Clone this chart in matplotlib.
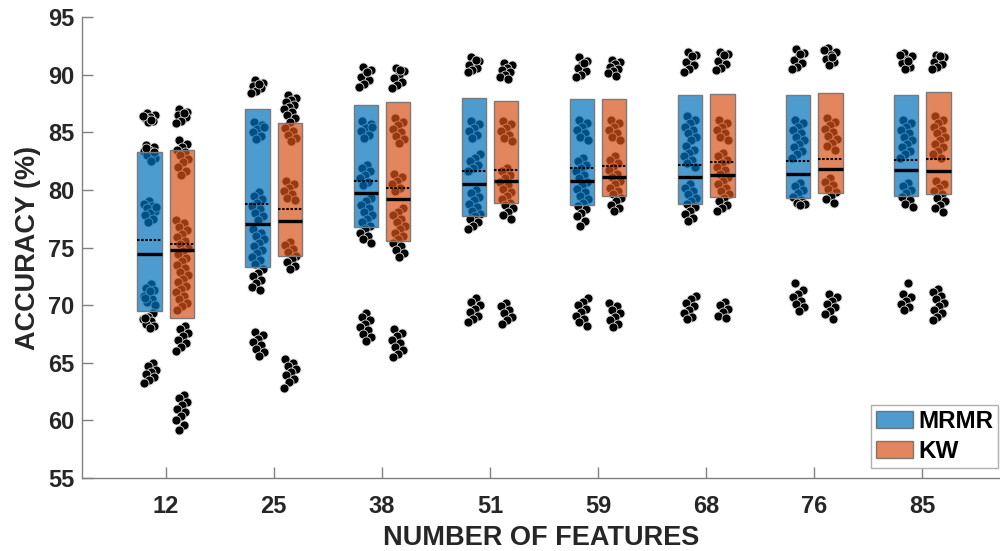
import numpy as np
import matplotlib
matplotlib.use("Agg")
import matplotlib.pyplot as plt
from matplotlib.patches import Rectangle, Patch

plt.rcParams['font.family'] = ['Liberation Sans', 'DejaVu Sans']

categories = ["12", "25", "38", "51", "59", "68", "76", "85"]
methods = ["MRMR", "KW"]

# box extents (lower, upper), medians and means
mrmr_low = [69.5, 73.3, 76.8, 77.7, 78.7, 78.8, 79.3, 79.5]
mrmr_high = [83.3, 87.0, 87.4, 88.0, 87.9, 88.2, 88.2, 88.2]
mrmr_median = [74.4, 77.0, 79.7, 80.5, 80.8, 81.1, 81.4, 81.7]
mrmr_mean = [75.65, 78.8, 80.8, 81.6, 81.9, 82.2, 82.5, 82.6]

kw_low = [68.9, 74.3, 75.6, 78.9, 79.5, 79.4, 79.7, 79.6]
kw_high = [83.5, 85.8, 87.6, 87.7, 87.9, 88.3, 88.4, 88.5]
kw_median = [74.8, 77.3, 79.2, 80.8, 81.1, 81.3, 81.8, 81.6]
kw_mean = [75.3, 78.3, 80.2, 81.75, 82.1, 82.4, 82.7, 82.7]

# individual accuracies
mrmr_12 = [86.7, 86.5, 86.3, 86.2, 86.0, 85.9, 86.4, 86.1,
           83.9, 83.7, 83.5, 83.4, 83.2, 83.0, 82.8, 82.5, 83.6, 83.3,
           79.0, 78.8, 78.6, 78.4, 78.2, 78.0, 77.8, 77.5, 77.2, 78.5,
           71.8, 71.5, 71.3, 71.0, 70.8, 70.5, 70.3, 70.0, 71.2, 70.6,
           69.3, 69.0, 68.8, 68.6, 68.4, 68.2, 68.0, 68.9,
           65.0, 64.7, 64.4, 64.2, 64.0, 63.8, 63.5, 63.2]
kw_12 = [87.0, 86.8, 86.6, 86.5, 86.3, 86.0, 85.8, 86.7,
         84.3, 84.0, 83.7, 83.5, 83.3, 83.0, 82.7, 82.4, 82.0, 81.6, 81.3,
         77.4, 77.1, 76.8, 76.5, 76.2, 75.9, 75.6, 75.3, 75.0, 74.7, 74.4,
         74.1, 73.8, 73.5, 73.2, 72.9, 72.6, 72.3, 72.0, 71.7, 71.4, 71.1,
         70.8, 70.5, 70.2, 69.9, 69.6,
         68.2, 67.9, 67.6, 67.3, 67.0, 66.7, 66.4, 66.0,
         62.2, 61.9, 61.6, 61.3, 61.0, 60.7, 60.4, 60.0, 59.6, 59.2]
mrmr_25 = [89.5, 89.3, 89.1, 89.0, 88.8, 88.6, 88.4, 89.2,
           85.9, 85.6, 85.3, 85.0, 84.7, 84.4, 85.5,
           79.8, 79.5, 79.2, 78.9, 78.6, 78.3, 78.0, 77.7, 77.4,
           76.6, 76.3, 76.0, 75.7, 75.4, 75.1, 74.8, 74.5, 74.2, 73.9, 73.6,
           73.1, 72.8, 72.5, 72.2, 71.9, 71.6, 71.3,
           67.7, 67.4, 67.1, 66.8, 66.5, 66.2, 65.9, 65.6]
kw_25 = [88.2, 88.0, 87.8, 87.6, 87.4, 87.2, 87.0, 86.8, 86.5, 86.2, 85.9,
         85.4, 85.1, 84.8, 84.5, 84.2,
         80.8, 80.5, 80.2, 79.9, 79.6, 79.3, 79.1,
         75.5, 75.2, 74.9, 74.6, 74.3, 74.0, 73.7, 73.4, 73.1,
         65.3, 65.0, 64.7, 64.5, 64.2, 63.9, 63.6, 63.3, 62.8]
mrmr_38 = [90.7, 90.4, 90.1, 89.8, 89.5, 89.2, 88.9, 90.2,
           86.0, 85.7, 85.4, 85.1, 84.8, 84.5, 85.5,
           82.2, 81.9, 81.6, 81.3, 81.0, 80.7, 80.4,
           79.3, 79.0, 78.7, 78.4, 78.1, 77.8, 77.5, 77.2, 76.9,
           76.6, 76.3, 76.0, 75.7, 75.4,
           69.3, 69.0, 68.7, 68.4, 68.1, 67.8, 67.5, 67.2, 66.9]
kw_38 = [90.6, 90.3, 90.0, 89.7, 89.4, 89.1, 88.8, 90.4,
         86.2, 85.9, 85.6, 85.3, 85.0, 84.7, 84.4, 84.1,
         81.4, 81.1, 80.8, 80.5, 80.2, 79.9,
         78.4, 78.1, 77.8, 77.5, 77.2, 76.9, 76.6, 76.3, 76.0, 75.7,
         75.4, 75.1, 74.8, 74.5, 74.2,
         67.9, 67.6, 67.3, 67.0, 66.7, 66.4, 66.1, 65.8, 65.5]
mrmr_51 = [91.5, 91.2, 91.0, 90.8, 90.6, 90.4, 90.2, 91.3,
           86.0, 85.7, 85.4, 85.1, 84.8, 84.5,
           83.1, 82.8, 82.5, 82.2, 81.9, 81.6,
           80.0, 79.7, 79.4, 79.1, 78.8, 78.5, 78.2, 77.9, 77.7,
           77.5, 77.2, 76.9, 76.6,
           70.6, 70.3, 70.0, 69.7, 69.4, 69.1, 68.8, 68.5]
kw_51 = [91.0, 90.8, 90.6, 90.4, 90.2, 90.0, 89.8, 89.6,
         86.0, 85.7, 85.4, 85.1, 84.8, 84.5, 84.2,
         81.9, 81.6, 81.3, 81.0, 80.7, 80.4,
         80.1, 79.8, 79.5, 79.2, 78.9,
         78.7, 78.4, 78.1, 77.8, 77.5,
         70.2, 69.9, 69.6, 69.3, 69.0, 68.7, 68.4]
mrmr_59 = [91.5, 91.2, 90.9, 90.6, 90.3, 90.0, 89.8, 91.0,
           86.1, 85.8, 85.5, 85.2, 84.9, 84.6, 84.3,
           82.8, 82.5, 82.2, 81.9, 81.6, 81.3,
           81.0, 80.7, 80.4, 80.1, 79.8, 79.5, 79.2, 78.9,
           78.6, 78.3, 78.0, 77.7, 77.3, 76.9,
           70.6, 70.3, 70.0, 69.7, 69.4, 69.1, 68.8, 68.5, 68.2]
kw_59 = [91.3, 91.1, 90.9, 90.7, 90.5, 90.3, 90.1, 89.9,
         86.1, 85.8, 85.5, 85.2, 84.9, 84.6, 84.3,
         82.9, 82.6, 82.3, 82.0, 81.7, 81.4, 81.1, 80.8, 80.5, 80.2, 79.9, 79.6,
         79.3, 79.0, 78.7, 78.4, 78.2,
         70.2, 69.9, 69.6, 69.3, 69.0, 68.7, 68.4, 68.1]
mrmr_68 = [92.0, 91.7, 91.4, 91.1, 90.8, 90.5, 90.2, 91.6,
           86.4, 86.1, 85.8, 85.5, 85.2, 84.9, 84.6, 84.3,
           83.8, 83.5, 83.2, 82.9, 82.6, 82.3, 82.0,
           80.5, 80.2, 79.9, 79.6, 79.3, 79.0, 78.8,
           78.5, 78.2, 77.9, 77.6, 77.3,
           70.8, 70.5, 70.2, 69.9, 69.6, 69.3, 69.0, 68.8]
kw_68 = [92.0, 91.8, 91.5, 91.2, 90.9, 90.6, 90.4, 91.7,
         86.1, 85.8, 85.5, 85.2, 84.9, 84.6, 84.3,
         83.2, 82.9, 82.6, 82.3, 82.0, 81.7,
         81.4, 81.1, 80.8, 80.5, 80.2, 79.9, 79.6,
         79.3, 79.0, 78.7, 78.4, 78.2,
         70.3, 70.0, 69.7, 69.4, 69.1, 68.9]
mrmr_76 = [92.2, 91.9, 91.6, 91.3, 91.0, 90.7, 90.5, 91.8,
           86.1, 85.8, 85.5, 85.2, 84.9, 84.6, 84.3, 84.0, 83.7, 83.4, 83.1, 82.8,
           80.6, 80.3, 80.0, 79.7, 79.4, 79.1, 78.9, 78.8, 78.7,
           71.9, 71.3, 71.0, 70.7, 70.4, 70.1, 69.8, 69.5]
kw_76 = [92.3, 92.0, 91.7, 91.4, 91.1, 90.8, 92.1, 91.5,
         86.2, 85.9, 85.6, 85.3, 85.0, 84.7, 84.4, 84.1, 83.8, 83.5,
         81.0, 80.7, 80.4, 80.1, 79.8, 79.5, 79.2, 78.9,
         71.0, 70.7, 70.4, 70.1, 69.8, 69.5, 69.2, 68.8]
mrmr_85 = [91.9, 91.6, 91.3, 91.0, 90.7, 90.5, 91.7, 91.2,
           86.1, 85.8, 85.5, 85.2, 84.9, 84.6, 84.3, 84.0, 83.7, 83.4, 83.1, 82.8,
           80.6, 80.3, 80.0, 79.7, 79.4, 79.1, 78.8, 78.5,
           71.9, 71.0, 70.7, 70.4, 70.1, 69.8, 69.6]
kw_85 = [91.7, 91.5, 91.3, 91.1, 90.9, 90.7, 90.5, 91.6,
         86.4, 86.1, 85.8, 85.5, 85.2, 84.9, 84.6, 84.3, 84.0, 83.7, 83.4, 83.1, 82.8,
         80.8, 80.5, 80.2, 79.9, 79.6, 79.3, 79.0, 78.7, 78.4, 78.1,
         71.4, 71.1, 70.8, 70.5, 70.2, 69.9, 69.6, 69.3, 69.0, 68.7]

mrmr_points = [mrmr_12, mrmr_25, mrmr_38, mrmr_51, mrmr_59, mrmr_68, mrmr_76, mrmr_85]
kw_points = [kw_12, kw_25, kw_38, kw_51, kw_59, kw_68, kw_76, kw_85]

yticks = [55, 60, 65, 70, 75, 80, 85, 90, 95]

# ---------------- styling ----------------
blue = (0 / 255, 114 / 255, 189 / 255)
orange = (217 / 255, 83 / 255, 25 / 255)
box_alpha = 0.7
text_col = "#262626"
axis_col = "#808080"
offset = 0.15
box_w = 0.225
jit = 0.06

fig = plt.figure(figsize=(10, 5.51), dpi=100)
ax = fig.add_axes([0.0815, 0.1325, 0.9185, 0.8366])

series = [(mrmr_points, mrmr_low, mrmr_high, mrmr_median, mrmr_mean, blue, -offset),
          (kw_points, kw_low, kw_high, kw_median, kw_mean, orange, offset)]

for pts_all, lo, hi, med, mn, col, off in series:
    for i in range(len(categories)):
        xc = i + 1 + off
        vals = np.asarray(pts_all[i])
        n = len(vals)
        # deterministic low-discrepancy jitter
        frac = (np.arange(n) * 0.6180339887 + 0.31) % 1.0
        xs = xc + (frac - 0.5) * 2 * jit
        ax.scatter(xs, vals, s=42, c="black", edgecolors="#dcdcdc",
                   linewidths=0.6, zorder=2)
        ax.add_patch(Rectangle((xc - box_w / 2, lo[i]), box_w, hi[i] - lo[i],
                               facecolor=col, alpha=box_alpha, edgecolor="none",
                               zorder=3))
        ax.add_patch(Rectangle((xc - box_w / 2, lo[i]), box_w, hi[i] - lo[i],
                               facecolor="none", edgecolor="#7a7a7a",
                               linewidth=1.0, zorder=4))
        ax.plot([xc - box_w / 2, xc + box_w / 2], [med[i], med[i]],
                color="black", lw=2.4, solid_capstyle="butt", zorder=5)
        ax.plot([xc - box_w / 2, xc + box_w / 2], [mn[i], mn[i]],
                color="black", lw=1.5, ls=(0, (1.2, 0.8)), zorder=5)

ax.set_xlim(0.221, 8.718)
ax.set_ylim(55, 95)
ax.set_xticks(np.arange(1, len(categories) + 1))
ax.set_xticklabels(categories)
ax.set_yticks(yticks)
ax.set_yticklabels([str(t) for t in yticks])

for s in ["top", "right"]:
    ax.spines[s].set_visible(False)
for s in ["left", "bottom"]:
    ax.spines[s].set_color(axis_col)
    ax.spines[s].set_linewidth(1.0)

ax.tick_params(axis="both", direction="in", length=8, width=1.0,
               color=axis_col, labelsize=17, labelcolor=text_col)
ax.tick_params(axis="y", pad=5)
ax.tick_params(axis="x", pad=12)
for lab in ax.get_xticklabels() + ax.get_yticklabels():
    lab.set_fontweight("bold")

ax.set_xlabel("NUMBER OF FEATURES", fontsize=19.5, fontweight="bold",
              color=text_col, labelpad=5)
ax.set_ylabel("ACCURACY (%)", fontsize=19.5, fontweight="bold",
              color=text_col, labelpad=5)

handles = [Patch(facecolor=blue, alpha=box_alpha, edgecolor="#555555", linewidth=1.0, label=methods[0]),
           Patch(facecolor=orange, alpha=box_alpha, edgecolor="#555555", linewidth=1.0, label=methods[1])]
leg = ax.legend(handles=handles, loc="lower right", bbox_to_anchor=(0.998, 0.022),
                borderaxespad=0, fancybox=False, framealpha=1, edgecolor="#b0b0b0",
                prop={"weight": "bold", "size": 17.5}, handlelength=1.55, handleheight=0.7,
                handletextpad=0.2, labelspacing=0.3, borderpad=0.2)
leg.get_frame().set_linewidth(1.0)
leg.set_zorder(10)

fig.savefig("out.png", dpi=100)
